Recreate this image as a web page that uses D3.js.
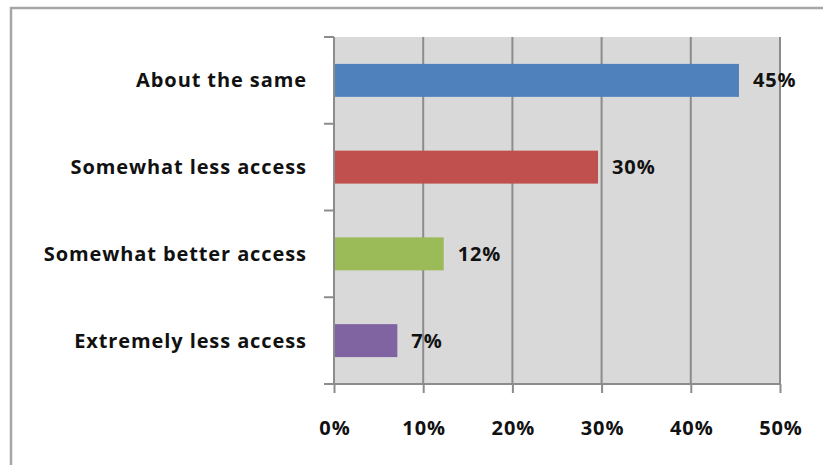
<!DOCTYPE html>
<html><head><meta charset="utf-8">
<script src="https://cdn.jsdelivr.net/npm/d3@7/dist/d3.min.js"></script>
<style>html,body{margin:0;padding:0;background:#fff;overflow:hidden}</style>
</head><body>
<svg id="c" width="823" height="465"></svg>
<script>
const categories = ["About the same", "Somewhat less access", "Somewhat better access", "Extremely less access"];
const values = [45.4, 29.6, 12.3, 7.1];
const valueLabels = ["45%", "30%", "12%", "7%"];
const colors = ["#4f81bd", "#c0504d", "#9bbb59", "#8064a2"];
const tickValues = [0, 10, 20, 30, 40, 50];
const tickLabels = ["0%", "10%", "20%", "30%", "40%", "50%"];

const svg = d3.select("#c");
const font = "'Open Sans', Lato, sans-serif";
const fs = 20, ls = 0.9;
const L = 334, R = 780, T = 37, B = 384;

function styleText(sel) {
  return sel.attr("font-family", font).attr("font-weight", "bold").attr("font-size", fs)
    .attr("letter-spacing", ls).attr("fill", "#111");
}

svg.append("rect").attr("x", 11).attr("y", 8).attr("width", 830).attr("height", 480)
  .attr("fill", "#fff").attr("stroke", "#a6a6a6").attr("stroke-width", 2.5);

const x = d3.scaleLinear().domain([0, 50]).range([L, R]);
const y = d3.scaleBand().domain(categories).range([T, B]).paddingInner(0.62).paddingOuter(0.31);

svg.append("rect").attr("x", L).attr("y", T).attr("width", R - L).attr("height", B - T).attr("fill", "#d9d9d9");

// gridlines
svg.append("g").selectAll("line").data(tickValues.slice(1)).join("line")
  .attr("x1", d => x(d)).attr("x2", d => x(d)).attr("y1", T).attr("y2", B)
  .attr("stroke", "#8c8c8c").attr("stroke-width", 2);

// bars
svg.append("g").selectAll("rect").data(values).join("rect")
  .attr("x", x(0)).attr("y", (d, i) => y(categories[i]))
  .attr("width", d => x(d) - x(0)).attr("height", y.bandwidth())
  .attr("fill", (d, i) => colors[i]);

// x axis
const xAxis = d3.axisBottom(x).tickValues(tickValues).tickFormat((d, i) => tickLabels[i]).tickSize(9).tickPadding(28);
const gx = svg.append("g").attr("transform", `translate(0,${B})`).call(xAxis);
gx.select(".domain").attr("stroke", "#8c8c8c").attr("stroke-width", 2).attr("d", `M${L - 8},0H${R}`);
gx.selectAll(".tick line").attr("stroke", "#8c8c8c").attr("stroke-width", 2);
styleText(gx.selectAll("text")).attr("dx", ls / 2);

// y axis (category boundaries ticks)
const yb = d3.scaleLinear().domain([0, categories.length]).range([T, B]);
const ga = svg.append("g");
ga.append("line").attr("x1", L).attr("x2", L).attr("y1", T).attr("y2", B).attr("stroke", "#8c8c8c").attr("stroke-width", 2);
ga.selectAll("line.t").data(d3.range(categories.length + 1)).join("line").attr("class", "t")
  .attr("x1", L - 10).attr("x2", L).attr("y1", d => yb(d)).attr("y2", d => yb(d))
  .attr("stroke", "#8c8c8c").attr("stroke-width", 2);

styleText(svg.append("g").selectAll("text").data(categories).join("text")
  .attr("x", 306 + ls).attr("y", d => y(d) + y.bandwidth() / 2).attr("dy", "0.35em")
  .attr("text-anchor", "end")).text(d => d);

styleText(svg.append("g").selectAll("text").data(values).join("text")
  .attr("x", d => x(d) + 14).attr("y", (d, i) => y(categories[i]) + y.bandwidth() / 2).attr("dy", "0.35em"))
  .text((d, i) => valueLabels[i]);
</script>
</body></html>
